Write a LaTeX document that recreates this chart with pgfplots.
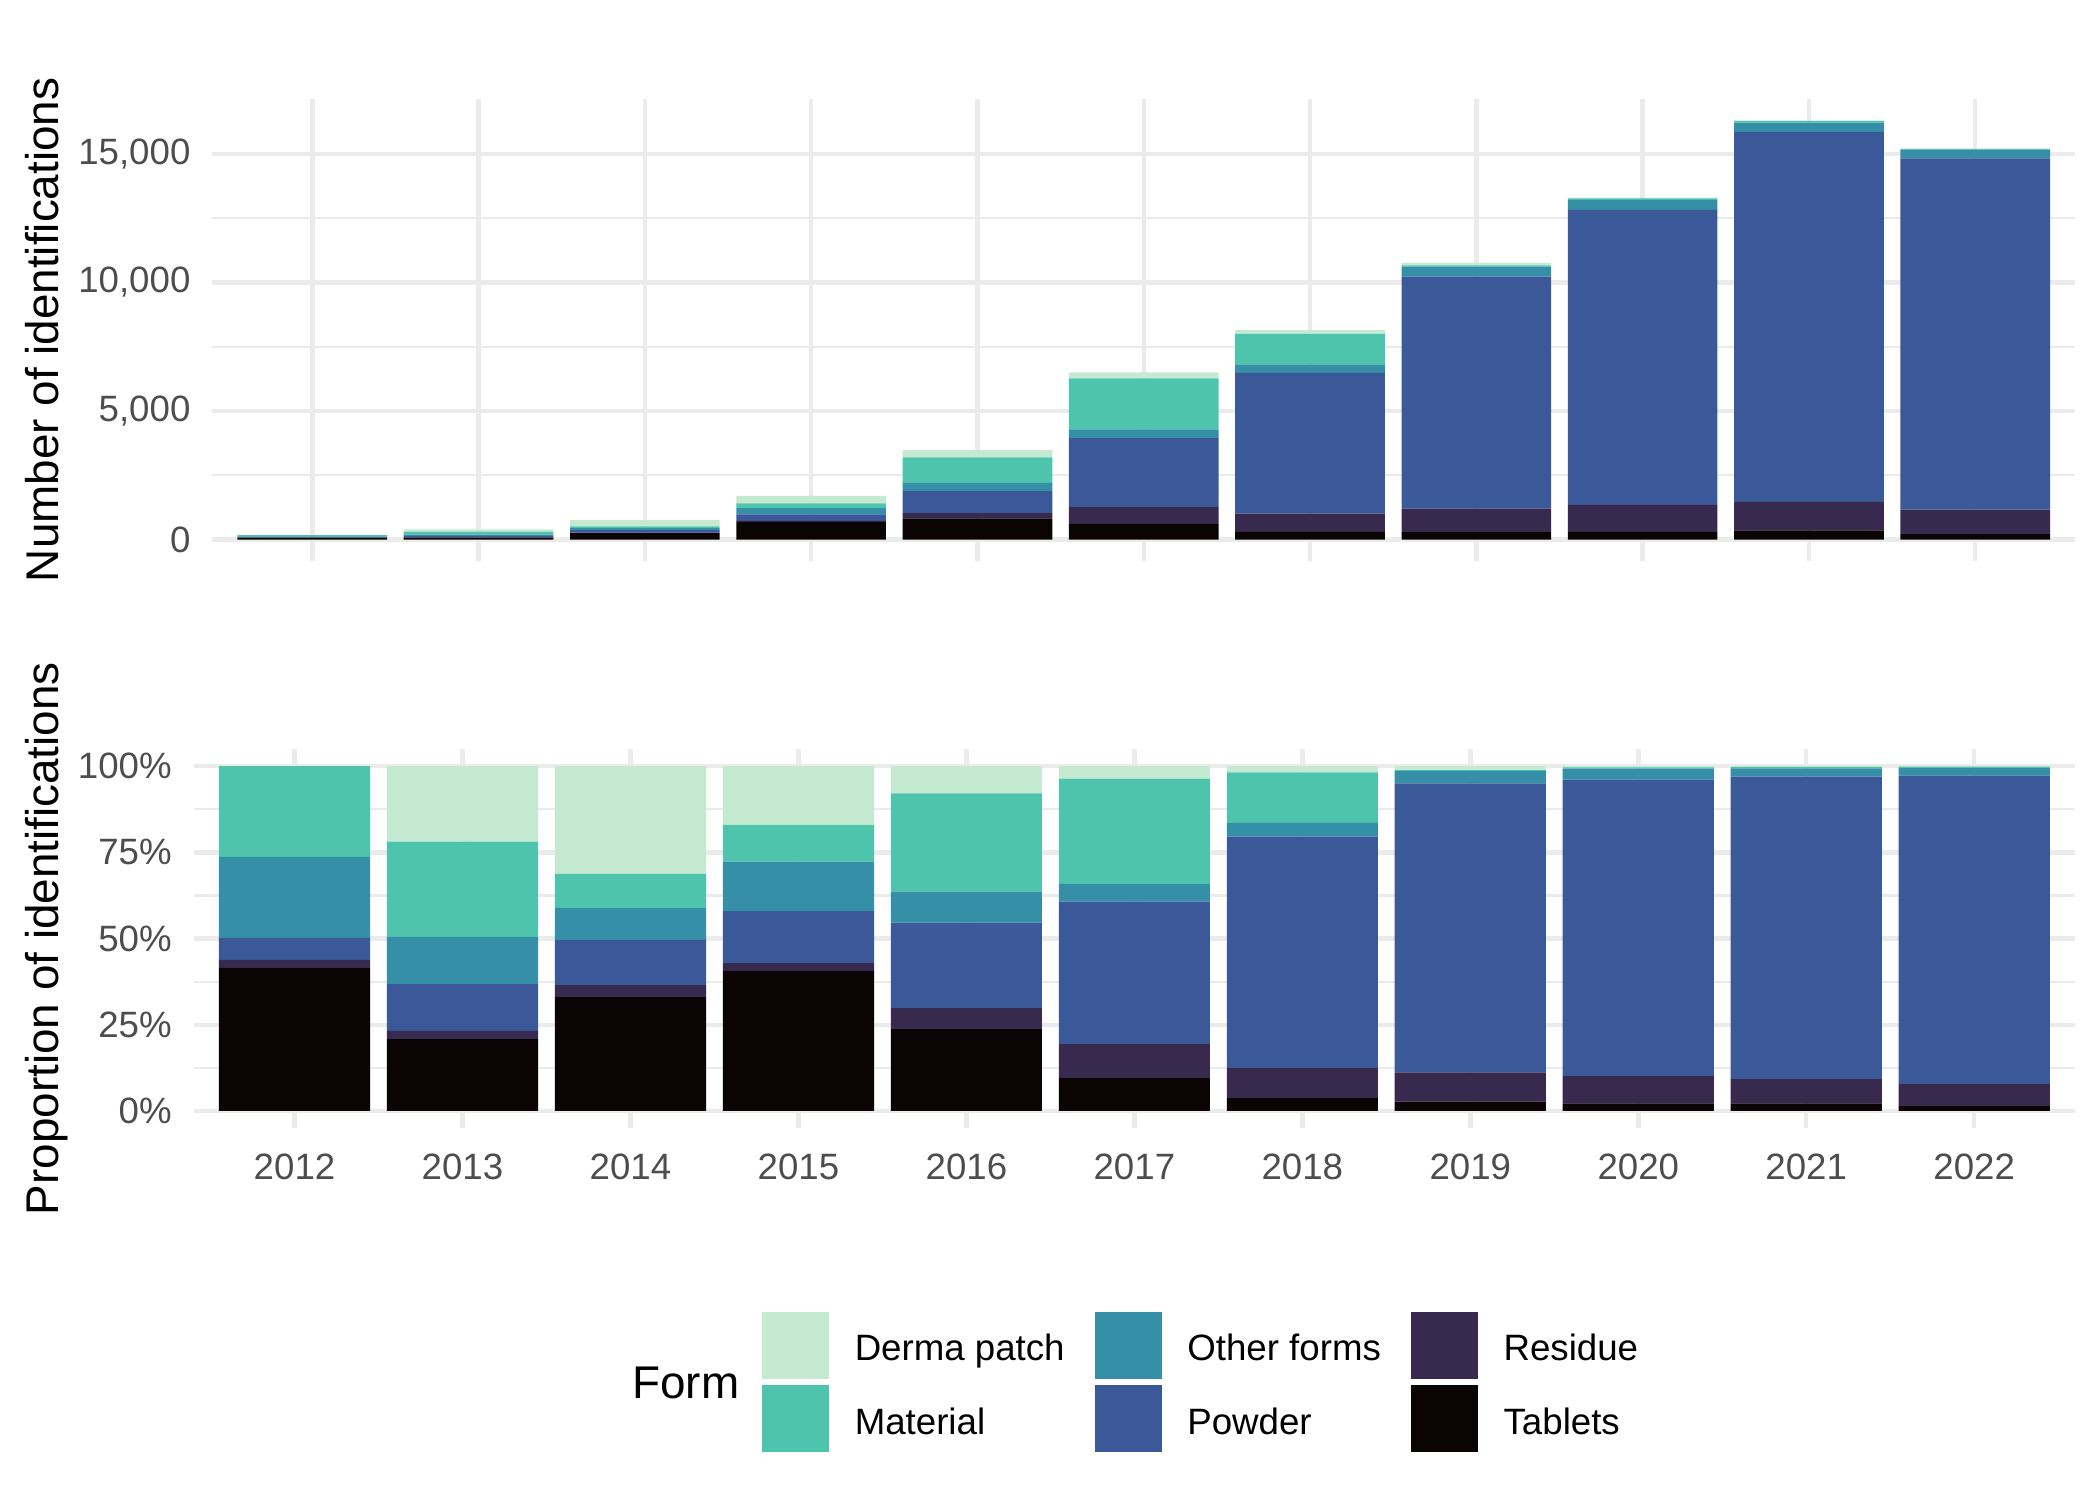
\documentclass[border=0pt]{standalone}
\usepackage{fontspec}
\setmainfont{Liberation Sans}
\usepackage{pgfplots}
\usepackage{pgfplotstable}
\pgfplotsset{compat=1.18}

\definecolor{cDerma}{HTML}{C5EAD2}
\definecolor{cMaterial}{HTML}{4FC4AD}
\definecolor{cOther}{HTML}{348FA7}
\definecolor{cPowder}{HTML}{3B5898}
\definecolor{cResidue}{HTML}{382A4F}
\definecolor{cTablets}{HTML}{0B0405}
\definecolor{gridc}{HTML}{EBEBEB}
\definecolor{tickc}{HTML}{4D4D4D}

% counts: Tablets, Residue, Powder, Other forms, Material, Derma patch
\pgfplotstableread{
x T R P O M D
0 75 4 12 42 47 0
1 83 10 54 55 110 88
2 251 27 99 71 75 237
3 690 39 257 243 182 289
4 825 212 863 313 992 275
5 618 644 2684 338 1983 234
6 302 709 5477 326 1190 147
7 290 920 9020 390 40 100
8 300 1050 11470 390 60 30
9 360 1110 14380 360 60 30
10 220 950 13650 340 30 10
}\counts

% proportions (%)
\pgfplotstableread{
x T R P O M D
0 41.5 2.3 6.4 23.5 26.3 0
1 20.8 2.4 13.6 13.7 27.6 21.9
2 33.0 3.5 13.1 9.3 9.9 31.2
3 40.6 2.3 15.1 14.3 10.7 17.0
4 23.7 6.1 24.8 9.0 28.5 7.9
5 9.5 9.9 41.3 5.2 30.5 3.6
6 3.7 8.7 67.2 4.0 14.6 1.8
7 2.7 8.5 83.8 3.6 0.3 1.1
8 2.2 7.9 86.0 3.2 0.4 0.3
9 2.2 7.0 87.8 2.4 0.4 0.2
10 1.4 6.4 89.5 2.3 0.3 0.1
}\props

\begin{document}
\begin{tikzpicture}
\useasboundingbox (0,0) rectangle (504pt,359.76pt);
\pgfplotsset{
  panel/.style={
    scale only axis, anchor=south west,
    xmin=-0.6, xmax=10.6, xtick={0,1,2,3,4,5,6,7,8,9,10},
    ybar stacked, bar width=0.9,
    scaled y ticks=false,
    axis line style={draw=none},
    major tick length=0pt, minor tick length=0pt,
    ymajorgrids, xmajorgrids, yminorgrids,
    major grid style={draw=gridc, line width=1.07pt},
    minor grid style={draw=gridc, line width=0.53pt},
    tick label style={font=\fontsize{8.8}{10.56}\selectfont, text=tickc},
    yticklabel style={anchor=east, inner sep=0pt, xshift=-5.1pt},
    xticklabel style={anchor=north, inner sep=0pt, yshift=-6pt},
  },
  swatch/.style={legend image code/.code={\fill[#1] (0pt,-4.1pt) rectangle (15.6pt,11.5pt);}},
}

% top panel: counts
\begin{axis}[panel, at={(51.0pt,225.2pt)}, width=447.0pt, height=110.7pt,
  ymin=-815, ymax=17115,
  ytick={0,5000,10000,15000}, yticklabels={0,{5,000},{10,000},{15,000}},
  minor ytick={2500,7500,12500},
  xticklabels={}]
\addplot[fill=cTablets, draw=none] table[x=x, y=T] {\counts};
\addplot[fill=cResidue, draw=none] table[x=x, y=R] {\counts};
\addplot[fill=cPowder, draw=none] table[x=x, y=P] {\counts};
\addplot[fill=cOther, draw=none] table[x=x, y=O] {\counts};
\addplot[fill=cMaterial, draw=none] table[x=x, y=M] {\counts};
\addplot[fill=cDerma, draw=none] table[x=x, y=D] {\counts};
\end{axis}

% bottom panel: proportions
\begin{axis}[panel, at={(46.5pt,89.0pt)}, width=451.5pt, height=91.0pt,
  ymin=-5, ymax=105,
  ytick={0,25,50,75,100}, yticklabels={0\%,25\%,50\%,75\%,100\%},
  minor ytick={12.5,37.5,62.5,87.5},
  xticklabels={2012,2013,2014,2015,2016,2017,2018,2019,2020,2021,2022},
  legend columns=3,
  legend style={at={(0.3023,-0.4846)}, anchor=north west, draw=none, fill=none,
    inner sep=0pt, outer sep=0pt, row sep=1.6pt, column sep=6.15pt,
    font=\fontsize{8.8}{10.56}\selectfont,
    cells={anchor=base west}, nodes={inner sep=0pt},
    /tikz/every even column/.append style={column sep=7.3pt}}]
\addplot[fill=cTablets, draw=none, forget plot] table[x=x, y=T] {\props};
\addplot[fill=cResidue, draw=none, forget plot] table[x=x, y=R] {\props};
\addplot[fill=cPowder, draw=none, forget plot] table[x=x, y=P] {\props};
\addplot[fill=cOther, draw=none, forget plot] table[x=x, y=O] {\props};
\addplot[fill=cMaterial, draw=none, forget plot] table[x=x, y=M] {\props};
\addplot[fill=cDerma, draw=none, forget plot] table[x=x, y=D] {\props};
\addlegendimage{swatch=cDerma}\addlegendentry{Derma patch}
\addlegendimage{swatch=cOther}\addlegendentry{Other forms}
\addlegendimage{swatch=cResidue}\addlegendentry{Residue}
\addlegendimage{swatch=cMaterial}\addlegendentry{Material}
\addlegendimage{swatch=cPowder}\addlegendentry{Powder}
\addlegendimage{swatch=cTablets}\addlegendentry{Tablets}
\end{axis}

\node[rotate=90, anchor=base, inner sep=0pt, font=\fontsize{11}{13.2}\selectfont] at (14.0pt,280.6pt) {Number of identifications};
\node[rotate=90, anchor=base, inner sep=0pt, font=\fontsize{11}{13.2}\selectfont] at (14.0pt,134.5pt) {Proportion of identifications};
\node[anchor=base west, inner sep=0pt, font=\fontsize{11}{13.2}\selectfont] at (151.6pt,24.2pt) {Form};
\end{tikzpicture}
\end{document}
